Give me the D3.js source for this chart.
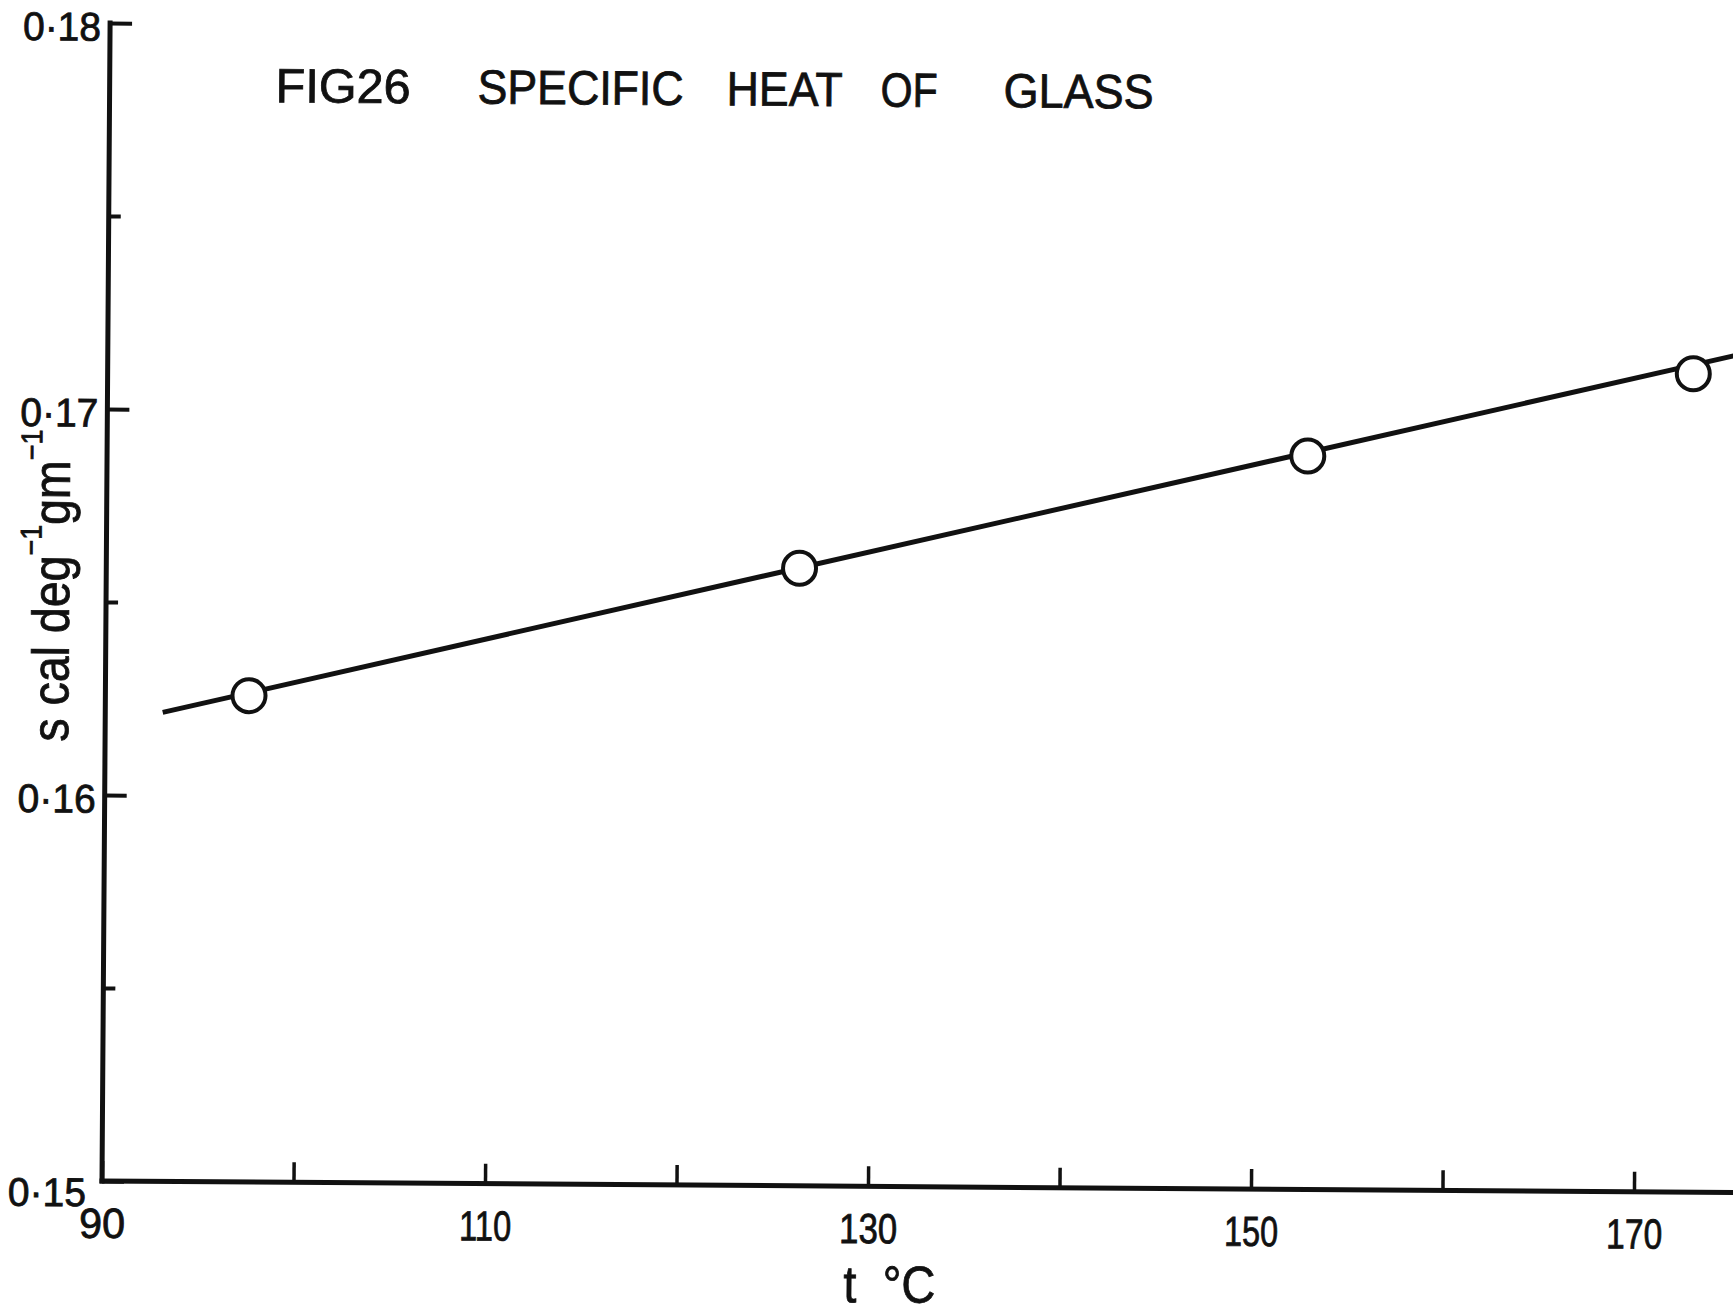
<!DOCTYPE html>
<html>
<head>
<meta charset="utf-8">
<script src="https://cdn.jsdelivr.net/npm/d3@7"></script>
<style>
  html, body { margin: 0; padding: 0; background: #ffffff; }
  svg { display: block; }
  text { font-family: "Liberation Sans", Arial, sans-serif; fill: #111; stroke: #111; stroke-width: 0.8px; }
</style>
</head>
<body>
<svg id="chart" width="1733" height="1314"></svg>
<script>
// Measured specific heat of glass against temperature
const temperature = [97.5, 126.2, 152.7, 172.8];          // t, °C
const specificHeat = [0.1626, 0.1660, 0.1690, 0.1712];    // s, cal deg^-1 gm^-1

// Straight line drawn through the measurements
const fitT = [93.0, 176.0];
const fitS = [0.16215, 0.1718];

// Axis ticks and labels
const xTicks = [90, 100, 110, 120, 130, 140, 150, 160, 170];
const xLabels = [90, 110, 130, 150, 170];
const yMajor = [0.15, 0.16, 0.17, 0.18];
const yMinor = [0.155, 0.165, 0.175];

const titleWords = ["FIG26", "SPECIFIC", "HEAT", "OF", "GLASS"];

const svg = d3.select("#chart");

// Plot frame: origin at the axis corner, slightly turned as on the drawn sheet
const g = svg.append("g").attr("transform", "translate(102,1181) rotate(0.4)");

const x = d3.scaleLinear().domain([90, 170]).range([0, 1532]);
const y = d3.scaleLinear().domain([0.15, 0.18]).range([0, -1158]);

const ink = "#111";
const font = "Liberation Sans, Arial, sans-serif";

// Narrow lettering widths for the numbers
const xLabelWidth = { 90: 46, 110: 52, 130: 58, 150: 54, 170: 56 };

// ---- x axis ----
const xAxis = d3.axisBottom(x)
  .tickValues(xTicks)
  .tickSize(-20)
  .tickSizeOuter(0)
  .tickPadding(27)
  .tickFormat(d => xLabels.includes(d) ? String(d) : "");
const gx = g.append("g").call(xAxis);
gx.select(".domain").remove();
gx.selectAll(".tick line").attr("stroke", ink).attr("stroke-width", 3.5);
gx.selectAll(".tick text")
  .attr("font-size", 42)
  .attr("fill", ink)
  .attr("font-family", font)
  .filter(d => xLabels.includes(d))
  .attr("textLength", d => xLabelWidth[d])
  .attr("lengthAdjust", "spacingAndGlyphs");

// ---- y axis (major, labelled) ----
const yAxis = d3.axisLeft(y)
  .tickValues(yMajor)
  .tickSize(-22)
  .tickSizeOuter(0)
  .tickPadding(9)
  .tickFormat(d => d3.format(".2f")(d).replace(".", "·"));
const gy = g.append("g").call(yAxis);
gy.select(".domain").remove();
gy.selectAll(".tick line").attr("stroke", ink).attr("stroke-width", 4);
gy.selectAll(".tick text")
  .attr("font-size", 40)
  .attr("fill", ink)
  .attr("dy", "0.43em")
  .attr("font-family", font)
  .attr("textLength", 78)
  .attr("lengthAdjust", "spacingAndGlyphs");
gy.selectAll(".tick").filter(d => d === 0.15).select("text")
  .attr("x", -16).attr("dy", "0.62em");

// ---- y axis (minor, unlabelled) ----
const yAxisMinor = d3.axisLeft(y)
  .tickValues(yMinor)
  .tickSize(-12)
  .tickSizeOuter(0)
  .tickFormat("");
const gyMinor = g.append("g").call(yAxisMinor);
gyMinor.select(".domain").remove();
gyMinor.selectAll(".tick line").attr("stroke", ink).attr("stroke-width", 4);

// ---- axis lines ----
g.append("line")
  .attr("x1", x(90)).attr("y1", y(0.15))
  .attr("x2", x(176)).attr("y2", y(0.15))
  .attr("stroke", ink).attr("stroke-width", 5).attr("stroke-linecap", "square");
g.append("line")
  .attr("x1", x(90)).attr("y1", y(0.15))
  .attr("x2", x(90)).attr("y2", y(0.18))
  .attr("stroke", ink).attr("stroke-width", 5).attr("stroke-linecap", "square");

// ---- fitted line ----
const fitData = fitT.map((t, i) => ({ t, s: fitS[i] }));
const line = d3.line().x(d => x(d.t)).y(d => y(d.s));
g.append("path")
  .datum(fitData)
  .attr("d", line)
  .attr("fill", "none")
  .attr("stroke", ink)
  .attr("stroke-width", 5);

// ---- measured points ----
const points = temperature.map((t, i) => ({ t, s: specificHeat[i] }));
g.selectAll("circle.pt")
  .data(points)
  .join("circle")
  .attr("class", "pt")
  .attr("cx", d => x(d.t))
  .attr("cy", d => y(d.s))
  .attr("r", 16.5)
  .attr("fill", "#ffffff")
  .attr("stroke", ink)
  .attr("stroke-width", 4);

// ---- title ----
const titleX = [166, 368, 617, 771, 894];
const titleW = [135, 206, 116, 57, 150];
g.append("g").selectAll("text")
  .data(titleWords)
  .join("text")
  .attr("x", (d, i) => titleX[i])
  .attr("y", -1080)
  .attr("font-size", 48)
  .attr("textLength", (d, i) => titleW[i])
  .attr("lengthAdjust", "spacingAndGlyphs")
  .text(d => d);

// ---- y axis title ----
const yTitle = g.append("text")
  .attr("transform", "translate(-37,-439) rotate(-90)")
  .attr("font-size", 52)
  .attr("textLength", 312)
  .attr("lengthAdjust", "spacingAndGlyphs");
yTitle.append("tspan").text("s cal deg");
yTitle.append("tspan").attr("font-size", 30).attr("baseline-shift", "28px").text("−1");
yTitle.append("tspan").text("gm");
yTitle.append("tspan").attr("font-size", 30).attr("baseline-shift", "28px").text("−1");

// ---- x axis title ----
g.append("text")
  .attr("x", 742)
  .attr("y", 116)
  .attr("font-size", 52)
  .attr("xml:space", "preserve")
  .attr("textLength", 92)
  .attr("lengthAdjust", "spacingAndGlyphs")
  .text("t  °C");
</script>
</body>
</html>
